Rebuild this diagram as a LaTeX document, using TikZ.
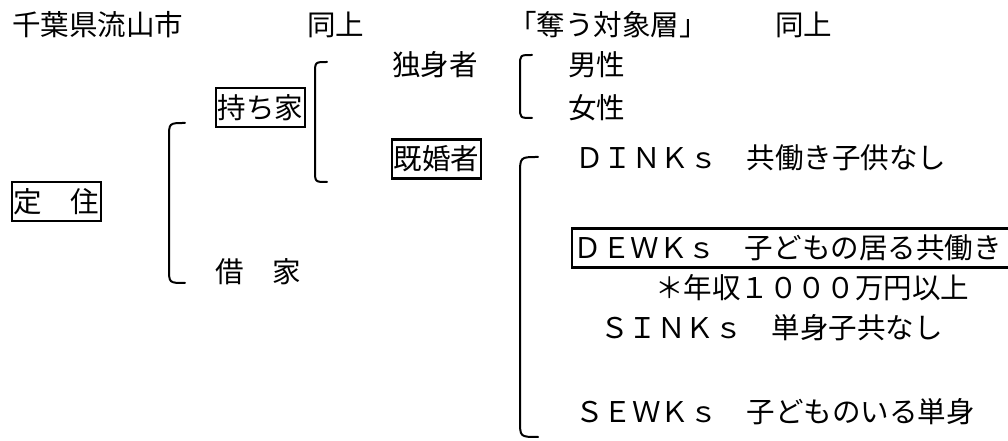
\documentclass[tikz,border=0pt]{standalone}
\usepackage{fontspec}
\newfontfamily\jp{Noto Sans CJK JP}
\begin{document}
\begin{tikzpicture}[x=0.75pt,y=-0.75pt,
  txt/.style={anchor=west, inner sep=0pt, text height=18.8pt, text depth=2.6pt,
    font=\jp\fontsize{21.4pt}{24pt}\selectfont},
  boxed/.style={txt, draw, line width=1.7pt, inner xsep=1.2pt, inner ysep=4pt},
  brk/.style={draw, line width=1.5pt, line cap=round}]
\clip (0,0) rectangle (1008,441);
% header row
\node[txt] (h1) at (12,25) {千葉県流山市};
\node[txt] (h2) at (307,25) {同上};
\node[txt] (h3) at (508,25) {「奪う対象層」};
\node[txt] (h4) at (775,25) {同上};
% level 1
\node[boxed] (teiju) at (11,201.5) {定　住};
% level 2
\node[boxed] (mochiie) at (215,107.5) {持ち家};
\node[txt] (shakuya) at (215,272) {借　家};
% level 3
\node[txt] (dokushin) at (392,65) {独身者};
\node[boxed] (kikon) at (391,159) {既婚者};
% level 4
\node[txt] (dansei) at (568,65) {男性};
\node[txt] (josei) at (568,108) {女性};
\node[txt] (dinks) at (575,158) {ＤＩＮＫｓ　共働き子供なし};
\node[boxed, text width=345pt, align=left] (dewks) at (571,248) {ＤＥＷＫｓ　子どもの居る共働き};
\node[txt] (nenshu) at (655,288) {＊年収１０００万円以上};
\node[txt] (sinks) at (600,328) {ＳＩＮＫｓ　単身子共なし};
\node[txt] (sewks) at (575,412) {ＳＥＷＫｓ　子どものいる単身};
% brackets
\draw[brk] (185,123) .. controls (169,123) .. (169,138) -- (169,268) .. controls (169,283) .. (185,283);
\draw[brk] (327,62) .. controls (315,62) .. (315,74) -- (315,170) .. controls (315,182) .. (327,182);
\draw[brk] (532,55) .. controls (520,55) .. (520,66) -- (520,107) .. controls (520,118) .. (532,118);
\draw[brk] (538,157) .. controls (520,157) .. (520,175) -- (520,420) .. controls (520,437) .. (538,437);
\end{tikzpicture}
\end{document}
